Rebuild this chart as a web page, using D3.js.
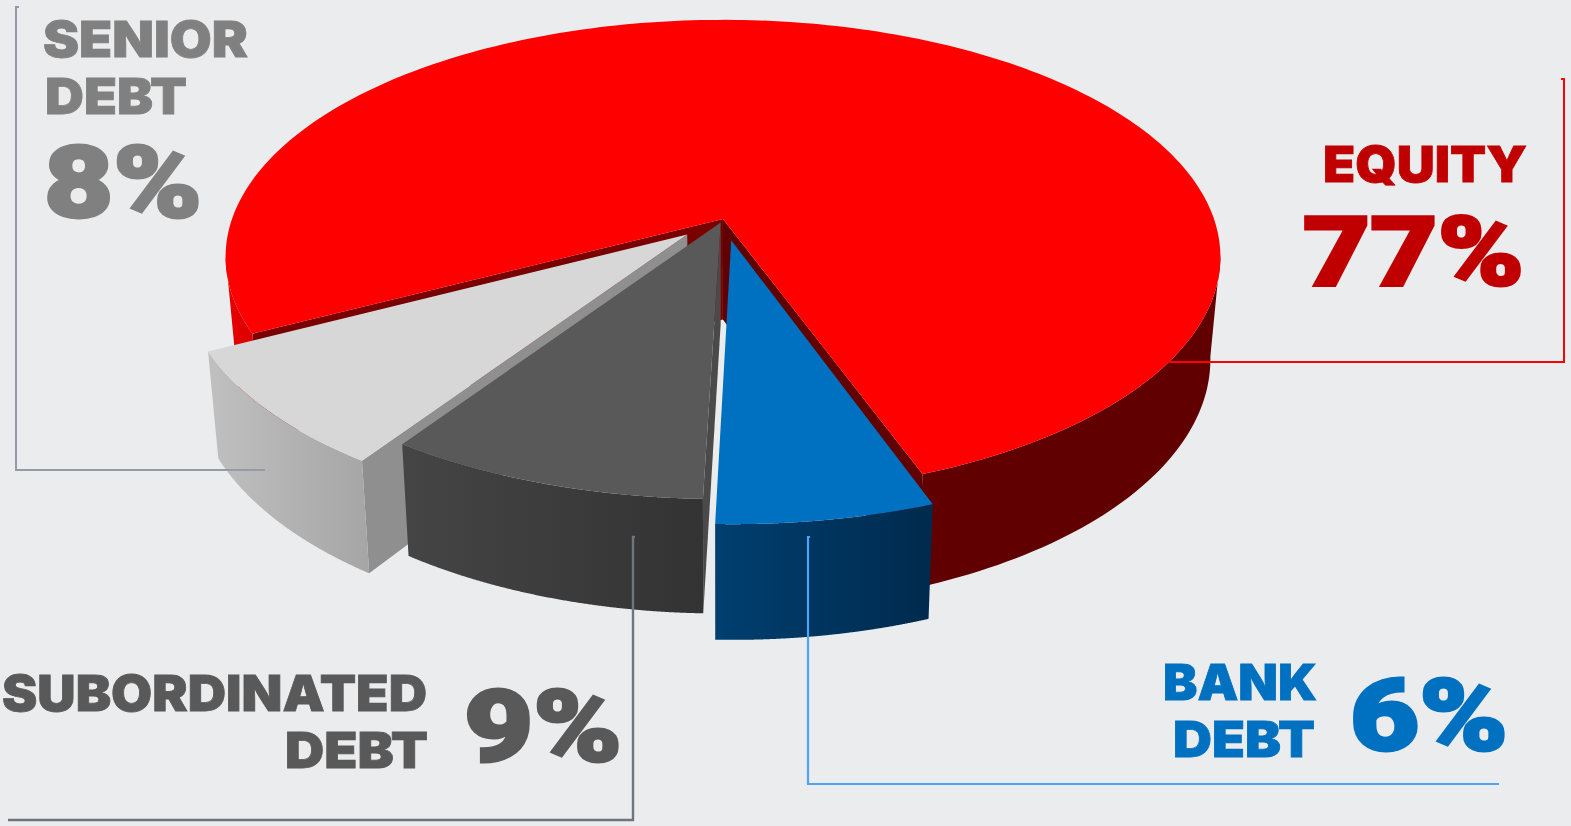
<!DOCTYPE html>
<html>
<head>
<meta charset="utf-8">
<script src="https://cdn.jsdelivr.net/npm/d3@7/dist/d3.min.js"></script>
<style>
html,body{margin:0;padding:0;background:#ebecee;overflow:hidden}
svg{display:block}
text{font-family:Inter,"Liberation Sans",sans-serif;font-weight:900}
text.figure{font-family:Roboto,"Liberation Sans",sans-serif;font-weight:900}
</style>
</head>
<body>
<svg id="chart" width="1571" height="826"></svg>
<script>
// Capital structure shares, in percent
const categories = ["Equity", "Bank debt", "Subordinated debt", "Senior debt"];
const shares = [77, 6, 9, 8];
const explode = [0, 0.092, 0.016, 0.098];
const twist = [0.9, 1.2, 1.2, 1.0];
const topColors = ["#ff0000", "#0070c0", "#595959", "#d7d7d7"];
const wallFrom = ["#e60000", "#003f70", "#454545", "#c0c0c0"];
const wallTo = ["#600000", "#002a4d", "#333333", "#a5a5a5"];
const innerFirst = ["#7a0000", "#003050", "#4a4a4a", "#8f8f8f"];
const innerLast = ["#600000", "#003050", "#4a4a4a", "#8f8f8f"];
const wallSpan = [[227, 930], [717, 932], [402, 702], [208, 372]];
// Which flat walls face the viewer: [first edge, last edge] of each slice
const innerVisible = [[true, true], [false, false], [true, false], [true, false]];
// Back-to-front painting order of the slices
const paintOrder = [0, 3, 2, 1];

// Label blocks: text, left edge, baseline, width, size, colour
const labelText = ["SENIOR", "DEBT", "8%", "EQUITY", "77%", "SUBORDINATED", "DEBT", "9%", "BANK", "DEBT", "6%"];
const labelX = [43, 45, 44, 1323, 1303, 2, 285, 464, 1163, 1173, 1350];
const labelY = [57, 114, 217, 182, 285, 711, 768, 761, 700, 757, 750];
const labelW = [205, 142, 158, 204, 221, 425, 143, 158, 154, 142, 158];
const labelSize = [50, 50, 100, 50, 97, 50, 50, 100, 50, 50, 100];
const labelFill = ["#808080", "#808080", "#808080", "#c00000", "#c00000", "#595959", "#595959", "#595959", "#0070c0", "#0070c0", "#0070c0"];

// Leader lines
const leaders = [
  {color: "#949ba6", w: 2, pts: [[19, 7], [16, 7], [16, 470], [265, 470]]},
  {color: "#ff0000", w: 2, pts: [[1168, 362], [1564, 362], [1564, 79], [1561, 79]]},
  {color: "#6e757e", w: 2.4, pts: [[635, 537], [633, 537], [633, 820], [8, 820]]},
  {color: "#4da3f5", w: 2.2, pts: [[810, 537], [808, 537], [808, 784], [1499, 784]]}
];

const svg = d3.select("#chart");
svg.append("rect").attr("width", 1571).attr("height", 826).attr("fill", "#ebecee");
const defs = svg.append("defs");

// Perspective projection of the pie's unit disc onto the page
const cx = 723, cy = 219, A = 491, B = 231, k = 0.16, depth = 107, vanishX = 720;
function project(u, v, lower) {
  const w = 1 - k * v;
  const X = cx + A * u / w, Y = cy + B * v / w;
  if (!lower) return [X, Y];
  return [vanishX + (X - vanishX) * 0.98, Y + depth + 0.05 * (Y - 350)];
}

const startAngle = 241.7 * Math.PI / 180;
const arcs = d3.pie().sort(null).startAngle(startAngle).endAngle(startAngle + 2 * Math.PI)(shares);
const line = d3.line();

paintOrder.forEach(i => {
  const a = arcs[i];
  const rot = twist[i] * Math.PI / 180;
  const a0 = a.startAngle + rot, a1 = a.endAngle + rot;
  const mid = (a.startAngle + a.endAngle) / 2;
  const ou = Math.sin(mid) * explode[i], ov = -Math.cos(mid) * explode[i];
  const thetas = d3.range(0, 241).map(t => a0 + (a1 - a0) * t / 240);
  const at = (t, lower) => project(ou + Math.sin(t), ov - Math.cos(t), lower);
  const hub = lower => project(ou, ov, lower);
  const g = svg.append("g").attr("class", "slice").attr("data-name", categories[i]);

  const gradId = "wall" + i;
  const grad = defs.append("linearGradient").attr("id", gradId)
    .attr("gradientUnits", "userSpaceOnUse")
    .attr("x1", wallSpan[i][0]).attr("x2", wallSpan[i][1]).attr("y1", 0).attr("y2", 0);
  grad.append("stop").attr("offset", 0).attr("stop-color", wallFrom[i]);
  grad.append("stop").attr("offset", i === 0 ? 0.5 : 1).attr("stop-color", wallTo[i]);

  // Flat inner walls behind everything else in the slice
  innerVisible[i].forEach((show, j) => {
    if (!show) return;
    const t = j ? a1 : a0;
    g.append("path").attr("d", line([hub(false), at(t, false), at(t, true), hub(true)]) + "Z")
      .attr("fill", j ? innerLast[i] : innerFirst[i]);
  });

  // Curved outer wall, only the runs of rim on the viewer's side of the widest point
  let run = [];
  const flush = () => {
    if (run.length > 1) {
      const upper = run.map(t => at(t, false));
      const lowerEdge = run.map(t => at(t, true)).reverse();
      g.append("path").attr("d", line([...upper, ...lowerEdge]) + "Z").attr("fill", `url(#${gradId})`);
    }
    run = [];
  };
  thetas.forEach(t => {
    if (ov - Math.cos(t) > k - 0.02) run.push(t); else flush();
  });
  flush();

  // Top face
  g.append("path").attr("d", line([hub(false), ...thetas.map(t => at(t, false))]) + "Z")
    .attr("fill", topColors[i]);
});

leaders.forEach(l => {
  svg.append("path").attr("d", line(l.pts)).attr("fill", "none")
    .attr("stroke", l.color).attr("stroke-width", l.w);
});

labelText.forEach((t, i) => {
  const big = labelSize[i] > 60;
  svg.append("text").text(t)
    .attr("class", big ? "figure" : "word")
    .attr("x", labelX[i]).attr("y", labelY[i])
    .attr("font-size", labelSize[i]).attr("fill", labelFill[i])
    .attr("stroke", labelFill[i]).attr("stroke-width", big ? 3 : 0.8)
    .attr("textLength", labelW[i]).attr("lengthAdjust", "spacingAndGlyphs");
});
</script>
</body>
</html>
